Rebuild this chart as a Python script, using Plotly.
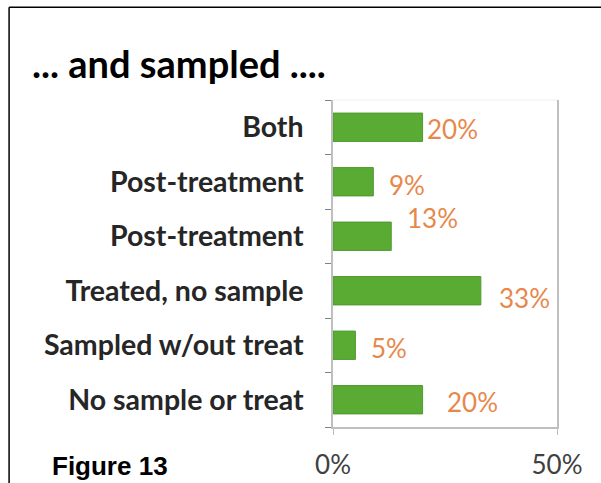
import plotly.graph_objects as go

categories = ["Both", "Post-treatment", "Post-treatment", "Treated, no sample",
              "Sampled w/out treat", "No sample or treat"]
values = [20, 9, 13, 33, 5, 20]
value_labels = ["20%", "9%", "13%", "33%", "5%", "20%"]
x_tick_vals = [0, 50]
x_tick_text = ["0%", "50%"]

# label offsets (pixels) as in the original slide
label_xshift = [2, 14, 14, 16, 14, 22]
label_yshift = [-2, -3, 18, -7, -3, -2]

pos = list(range(len(categories)))

fig = go.Figure()
fig.add_trace(go.Bar(
    x=values, y=pos, orientation="h", width=0.52,
    marker=dict(color="#5aab34", line=dict(color="#4f9a2c", width=1)),
    hoverinfo="skip",
))

fig.update_layout(
    width=601, height=483,
    margin=dict(l=333, r=44, t=100, b=56),
    paper_bgcolor="white", plot_bgcolor="white",
    showlegend=False,
    xaxis=dict(range=[0, 50], tickvals=x_tick_vals, ticktext=x_tick_text,
               automargin=False,
               showgrid=False, zeroline=False, showline=True, linecolor="#bfbfbf",
               linewidth=1.5, ticks="outside", ticklen=6, tickcolor="#bfbfbf",
               ticklabelstandoff=8,
               tickfont=dict(family="Lato", size=26, color="#404040")),
    yaxis=dict(range=[5.5, -0.5], tickvals=pos, ticktext=categories,
               automargin=False,
               showgrid=False, zeroline=False, showline=True, linecolor="#bfbfbf",
               linewidth=1.5, mirror=True, ticks="", ticklabelstandoff=22,
               minor=dict(tick0=0.5, dtick=1, ticks="outside", ticklen=6,
                          tickcolor="#808080", showgrid=False),
               tickfont=dict(family="Lato", size=28.5, color="#262626", weight="bold")),
    shapes=[
        dict(type="line", xref="paper", yref="paper", x0=-1.446, x1=1.3,
             y0=1.284, y1=1.284, line=dict(color="black", width=1.5)),
        dict(type="line", xref="paper", yref="paper", x0=-1.446, x1=-1.446,
             y0=1.284, y1=-0.3, line=dict(color="black", width=1.5)),
        dict(type="line", xref="paper", yref="paper", x0=0, x1=1,
             y0=1, y1=1, line=dict(color="#eeeeee", width=1)),
    ],
)

for i, (v, t) in enumerate(zip(values, value_labels)):
    fig.add_annotation(x=v, y=i, text=t, showarrow=False, xanchor="left",
                       yanchor="middle", xshift=label_xshift[i], yshift=label_yshift[i],
                       font=dict(family="Lato", size=26, color="#e8874a"))

fig.add_annotation(text="<b>... and sampled ....</b>", xref="paper", yref="paper",
                   x=-1.352, y=1.036, xanchor="left", yanchor="bottom", showarrow=False,
                   font=dict(family="Lato", size=38, color="black"))
fig.add_annotation(text="<b>Figure 13</b>", xref="paper", yref="paper",
                   x=-1.265, y=-0.066, xanchor="left", yanchor="top", showarrow=False,
                   font=dict(family="Liberation Sans", size=26, color="black"))

fig.write_html("out.html")
